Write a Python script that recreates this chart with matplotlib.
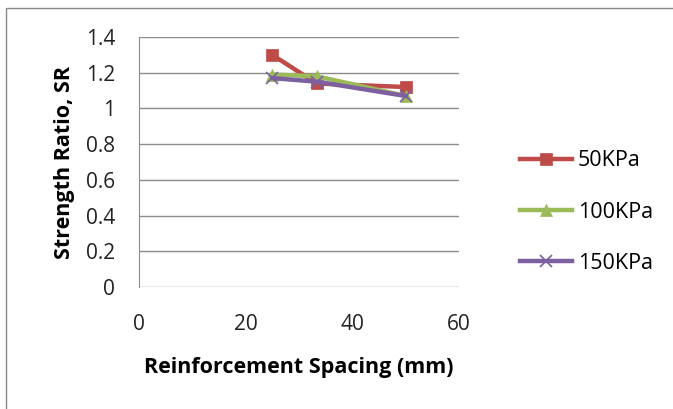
import matplotlib.pyplot as plt
from matplotlib.patches import Rectangle

spacing = [25, 33.33, 50]
sr_50 = [1.30, 1.14, 1.12]
sr_100 = [1.19, 1.18, 1.07]
sr_150 = [1.17, 1.15, 1.07]
labels = ["50KPa", "100KPa", "150KPa"]

plt.rcParams['font.family'] = ['Open Sans', 'DejaVu Sans']

fig = plt.figure(figsize=(6.73, 4.09), dpi=100)
ax = fig.add_axes([0.2065, 0.298, 0.4755, 0.6115])

# outer chart border
fig.patches.append(Rectangle((6 / 673, -0.05), 1.0, 1 - 8 / 409 + 0.05,
                             transform=fig.transFigure, fill=False,
                             edgecolor='#888888', linewidth=1.0))

series = [
    (sr_50, '#BE4B48', 's', 9),
    (sr_100, '#9BBB59', '^', 8),
    (sr_150, '#7D60A0', 'x', 8),
]
for (vals, col, mk, ms), lab in zip(series, labels):
    ax.plot(spacing, vals, color=col, marker=mk, markersize=ms,
            linewidth=3.2, label=lab, markeredgewidth=1.2 if mk == 'x' else 0.5)

ax.set_xlim(0, 60)
ax.set_ylim(0, 1.4)
ax.set_xticks([0, 20, 40, 60])
ax.set_yticks([0, 0.2, 0.4, 0.6, 0.8, 1, 1.2, 1.4])
ax.set_yticklabels(["0", "0.2", "0.4", "0.6", "0.8", "1", "1.2", "1.4"])
ax.yaxis.grid(True, color='#8c8c8c', linewidth=1)
ax.set_axisbelow(True)
for s in ['top', 'right', 'bottom']:
    ax.spines[s].set_visible(False)
ax.spines['left'].set_color('#8c8c8c')
ax.tick_params(length=0, labelsize=15, colors='#222222')
ax.tick_params(axis='x', pad=19)
ax.tick_params(axis='y', pad=17)

ax.set_xlabel("Reinforcement Spacing (mm)", fontsize=15.5, fontweight='bold', labelpad=16)
ax.set_ylabel("Strength Ratio, SR", fontsize=15.5, fontweight='bold', labelpad=8)

ax.legend(loc='center left', bbox_to_anchor=(1.13, 0.30), frameon=False,
          fontsize=15.5, handlelength=2.4, labelspacing=1.4, handletextpad=0.3)

fig.savefig("out.png", dpi=100)
